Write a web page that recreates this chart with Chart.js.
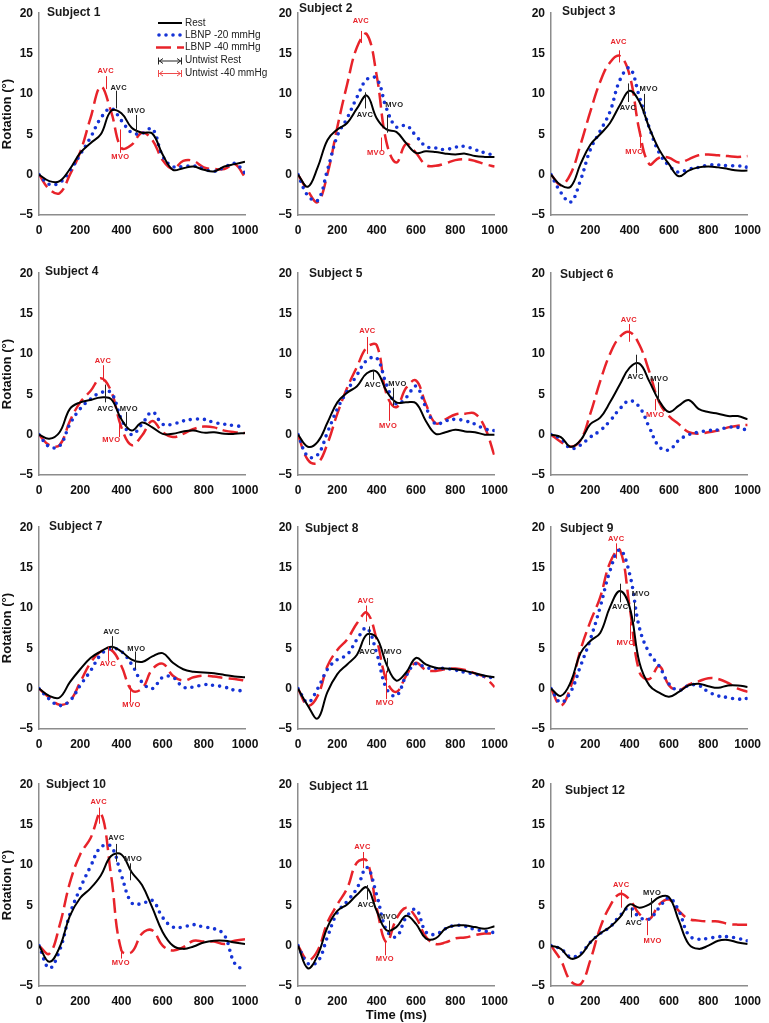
<!DOCTYPE html>
<html><head><meta charset="utf-8">
<script src="https://cdn.jsdelivr.net/npm/chart.js@4.4.1/dist/chart.umd.min.js"></script>
<style>
html,body{margin:0;padding:0;background:#fff;}
body{width:769px;height:1023px;position:relative;overflow:hidden;}
canvas{position:absolute;}
</style></head><body>
<script>
// ---------- DATA ----------
const times = [0,50,100,150,200,250,300,350,400,450,500,550,600,650,700,750,800,850,900,950,1000];
const subjectNames = ['Subject 1','Subject 2','Subject 3','Subject 4','Subject 5','Subject 6','Subject 7','Subject 8','Subject 9','Subject 10','Subject 11','Subject 12'];
const seriesNames = ['Rest','LBNP -20 mmHg','LBNP -40 mmHg'];
const untwistNames = ['Untwist Rest','Untwist -40 mmHg'];
const xTicks = [0,200,400,600,800,1000];
const yTicks = [-5,0,5,10,15,20];

const rest1 = [0,-0.8,-0.8,0.7,2.7,3.9,5.0,7.9,7.6,5.8,5.2,5.1,2.5,0.6,0.8,1.0,0.6,0.4,1.0,1.3,1.6];
const lbnp20_1 = [0,-1.2,-1.0,0.5,2.5,4.6,7.0,8.2,6.7,5.2,5.1,5.7,2.3,1.0,1.0,1.1,0.7,0.4,0.9,1.4,0.2];
const lbnp40_1 = [0,-1.8,-2.3,0.0,2.8,7.0,10.9,7.8,3.3,3.7,5.2,4.3,1.8,0.7,1.7,1.7,0.9,0.7,0.7,1.3,-0.3];

const rest2 = [0,-1.5,0.9,4.3,5.6,6.4,8.2,9.8,7.0,5.6,5.3,3.9,2.7,2.9,2.8,2.6,2.5,2.6,2.3,2.2,2.2];
const lbnp20_2 = [0,-2.6,-3.2,0.6,4.8,7.0,9.6,11.8,11.9,8.2,5.9,6.1,4.8,3.5,3.3,3.1,3.4,3.5,3.1,2.7,2.4];
const lbnp40_2 = [0,-2.0,-3.4,0.1,5.9,11.2,15.8,17.4,12.3,4.0,1.5,3.8,2.7,1.2,1.1,1.4,1.8,1.9,1.7,1.3,1.0];

const rest3 = [0,-1.3,-1.5,1.3,3.7,5.0,6.4,8.6,10.4,9.0,5.8,3.1,1.3,-0.2,0.5,0.9,1.0,0.9,0.7,0.5,0.5];
const lbnp20_3 = [0,-2.2,-3.4,-0.7,3.1,5.4,7.8,11.7,13.2,9.6,5.8,2.7,1.1,0.3,0.7,0.9,1.2,1.2,1.1,1.1,0.9];
const lbnp40_3 = [0,-1.3,0.1,3.7,7.8,11.5,13.9,14.7,12.3,5.4,1.3,2.1,2.1,1.5,1.9,2.4,2.5,2.4,2.3,2.2,2.3];

const rest4 = [0,-0.5,0.3,3.2,4.0,4.3,4.6,4.4,1.9,0.5,1.5,0.9,0.1,0.1,0.4,0.5,0.25,0.3,0.1,0.1,0.2];
const lbnp20_4 = [0,-1.5,-1.4,1.3,3.2,4.4,5.2,5.2,1.9,0.0,1.3,2.8,1.3,1.3,1.7,1.9,1.9,1.5,1.3,1.1,1.0];
const lbnp40_4 = [0,-1.3,-1.3,1.7,4.0,5.4,7.0,5.4,0.9,-1.3,-0.1,1.7,0.3,-0.3,0.1,0.7,1.0,0.9,0.5,0.3,0.2];

const rest5 = [0,-1.5,-0.9,1.5,4.0,5.2,6.0,7.6,7.8,5.4,4.0,4.0,3.9,1.7,0.1,0.3,0.6,0.4,0.3,0.0,0.0];
const lbnp20_5 = [0,-2.7,-2.5,0.3,3.2,5.4,7.4,9.2,9.5,6.2,3.8,4.6,6.0,3.4,1.3,1.7,1.9,1.7,1.3,0.7,0.5];
const lbnp40_5 = [0,-3.1,-3.5,-1.1,2.6,5.8,8.4,10.8,11.1,5.0,3.4,5.8,6.7,3.8,1.4,1.9,2.5,2.6,2.6,0.9,-2.7];

const rest6 = [0,-0.3,-1.5,-0.7,1.3,2.1,4.0,6.2,8.3,8.8,6.6,4.2,2.8,3.6,4.3,3.2,2.8,2.6,2.3,2.3,1.9];
const lbnp20_6 = [0,-0.5,-1.7,-1.3,-0.3,0.5,1.7,3.2,4.2,3.4,0.9,-1.5,-1.9,-0.7,0.0,0.3,0.5,0.6,0.9,0.9,0.5];
const lbnp40_6 = [0,-0.9,-1.5,-0.7,2.6,6.6,10.0,12.1,12.7,11.1,7.8,4.0,2.3,1.3,0.3,0.1,0.3,0.5,0.9,1.1,1.2];

const rest7 = [0,-0.9,-1.1,0.8,2.4,3.8,4.6,5.2,4.6,3.6,3.3,4.0,4.4,3.2,2.4,2.1,2.0,1.9,1.7,1.5,1.4];
const lbnp20_7 = [0,-1.3,-2.1,-1.5,0.4,2.2,4.2,5.0,4.6,3.0,0.8,0.0,1.4,1.4,0.2,0.2,0.5,0.4,0.2,-0.2,-0.25];
const lbnp40_7 = [0,-1.1,-2.0,-1.5,0.8,3.2,4.6,4.8,2.8,-0.2,0.0,2.4,3.1,1.6,1.0,1.4,1.6,1.5,1.3,1.2,1.0];

const rest8 = [0,-2.1,-3.7,-0.4,1.8,3.0,4.2,6.7,6.3,3.0,1.0,2.0,3.8,3.0,2.6,2.5,2.4,2.2,1.9,1.6,1.4];
const lbnp20_8 = [0,-1.7,0.0,2.4,3.6,4.2,6.1,7.5,4.4,0.0,-0.9,1.6,3.1,2.6,2.5,2.5,2.3,2.0,1.8,1.5,1.3];
const lbnp40_8 = [0,-2.1,-0.9,2.8,4.8,6.1,8.1,9.4,6.1,1.0,-0.4,1.6,3.2,2.3,2.2,2.4,2.5,2.3,1.9,1.4,0.2];

const rest9 = [0,-0.9,0.8,4.4,5.9,6.9,10.1,12.1,10.1,3.2,0.4,-0.5,-1.0,-0.4,0.4,0.6,0.3,0.1,0.4,0.4,0.2];
const lbnp20_9 = [0,-1.7,-0.4,2.8,6.1,10.1,14.6,17.2,14.2,7.5,4.4,2.8,0.6,-0.2,0.4,0.4,-0.4,-0.9,-1.1,-1.3,-1.2];
const lbnp40_9 = [0,-2.1,0.2,4.8,8.3,11.3,15.6,17.2,10.1,2.0,1.2,2.8,0.4,-0.2,0.5,0.9,1.3,1.2,0.7,0.0,-0.4];

const rest10 = [0,-2.0,-0.2,3.7,5.9,7.1,8.7,11.1,11.3,9.1,7.5,4.7,1.7,0.0,-0.4,-0.1,0.4,0.6,0.6,0.4,0.2];
const lbnp20_10 = [0,-2.8,-0.6,3.9,7.1,9.8,12.2,12.3,8.7,5.3,5.2,5.6,3.5,2.3,2.3,2.6,2.3,2.1,1.3,-2.2,-3.1];
const lbnp40_10 = [0,-1.0,2.5,7.8,11.3,13.3,16.4,8.7,-0.6,-0.8,1.5,1.9,0.0,-0.6,-0.2,0.6,0.5,0.5,0.2,0.6,0.8];

const rest11 = [0,-2.8,-1.2,2.3,4.3,5.1,6.3,7.2,4.3,1.9,2.3,3.7,2.7,0.9,0.9,2.1,2.5,2.5,2.3,2.1,2.4];
const lbnp20_11 = [0,-2.2,-2.0,1.1,4.1,5.5,7.1,9.7,6.3,1.9,1.1,3.5,4.5,1.7,1.4,2.1,2.5,2.4,2.0,1.8,1.6];
const lbnp40_11 = [0,-1.8,-0.6,2.9,5.1,7.1,10.3,10.5,4.7,0.4,3.3,4.7,3.5,1.1,0.2,0.4,0.9,1.0,1.3,1.5,1.5];

const rest12 = [0,-0.4,-1.6,-1.2,0.4,1.5,2.3,3.5,5.1,4.7,5.1,6.0,6.0,3.1,0.2,-0.4,0.0,0.6,0.7,0.4,0.2];
const lbnp20_12 = [0,-0.4,-1.4,-1.0,0.4,1.5,2.3,3.7,4.7,3.5,3.3,4.7,5.9,4.3,1.3,0.8,0.9,1.1,1.1,0.9,0.6];
const lbnp40_12 = [0,-1.8,-4.4,-4.8,-1.8,2.2,4.9,6.4,5.7,3.9,3.3,5.1,5.7,4.3,3.3,3.1,3.0,3.0,2.7,2.6,2.6];

const restSeries = [rest1,rest2,rest3,rest4,rest5,rest6,rest7,rest8,rest9,rest10,rest11,rest12];
const lbnp20Series = [lbnp20_1,lbnp20_2,lbnp20_3,lbnp20_4,lbnp20_5,lbnp20_6,lbnp20_7,lbnp20_8,lbnp20_9,lbnp20_10,lbnp20_11,lbnp20_12];
const lbnp40Series = [lbnp40_1,lbnp40_2,lbnp40_3,lbnp40_4,lbnp40_5,lbnp40_6,lbnp40_7,lbnp40_8,lbnp40_9,lbnp40_10,lbnp40_11,lbnp40_12];

// event markers: [time ms, line top °, line bottom °, label °, label shift ms, text, condition]
const events1 = [[376,10.4,8.2,10.8,11,'AVC','rest'],[473,7.4,5.2,7.9,0,'MVO','rest'],[324,12.2,10.6,12.9,0,'AVC','l40'],[395,5.6,2.7,2.2,0,'MVO','l40']];
const events2 = [[341,10.2,8.2,7.4,0,'AVC','rest'],[453,7.4,5.2,8.6,37,'MVO','rest'],[320,17.8,16.3,19.0,0,'AVC','l40'],[421,4.6,2.9,2.7,-24,'MVO','l40']];
const events3 = [[392,11.3,9.0,8.3,0,'AVC','rest'],[473,10.0,7.4,10.6,24,'MVO','rest'],[344,15.4,13.9,16.5,0,'AVC','l40'],[452,5.4,3.3,2.8,-28,'MVO','l40']];
const events4 = [[322,6.2,4.0,3.2,0,'AVC','rest'],[420,2.8,0.9,3.2,16,'MVO','rest'],[311,8.6,6.6,9.1,0,'AVC','l40'],[387,1.7,-0.3,-0.7,-36,'MVO','l40']];
const events5 = [[380,8.0,6.8,6.2,0,'AVC','rest'],[482,5.8,3.6,6.3,24,'MVO','rest'],[353,12.1,10.0,12.8,0,'AVC','l40'],[461,4.2,1.7,1.1,-3,'MVO','l40']];
const events6 = [[430,9.9,7.6,7.2,0,'AVC','rest'],[543,6.5,4.0,6.9,8,'MVO','rest'],[396,13.7,11.5,14.2,0,'AVC','l40'],[527,4.4,3.0,2.5,3,'MVO','l40']];
const events7 = [[352,6.5,4.8,7.0,0,'AVC','rest'],[467,4.6,2.4,4.9,6,'MVO','rest'],[335,5.2,3.4,3.0,0,'AVC','l40'],[441,0.4,-1.7,-2.0,8,'MVO','l40']];
const events8 = [[361,7.7,5.4,4.5,-8,'AVC','rest'],[455,3.8,2.0,4.6,27,'MVO','rest'],[345,10.3,8.3,10.9,0,'AVC','l40'],[445,2.2,-1.3,-1.8,-3,'MVO','l40']];
const events9 = [[352,13.0,10.7,10.1,0,'AVC','rest'],[420,10.7,8.3,11.7,37,'MVO','rest'],[332,18.0,16.1,18.6,0,'AVC','l40'],[402,8.3,6.1,5.7,-23,'MVO','l40']];
const events10 = [[376,12.6,10.4,13.3,0,'AVC','rest'],[444,10.2,8.1,10.8,13,'MVO','rest'],[290,17.1,15.1,17.8,0,'AVC','l40'],[397,-0.2,-1.6,-2.1,0,'MVO','l40']];
const events11 = [[353,7.5,5.7,5.1,-8,'AVC','rest'],[463,3.1,1.3,3.6,-5,'MVO','rest'],[328,11.6,9.6,12.2,0,'AVC','l40'],[442,0.6,-1.2,-1.7,0,'MVO','l40']];
const events12 = [[405,4.7,3.5,2.8,16,'AVC','rest'],[509,5.9,3.7,6.5,5,'MVO','rest'],[357,6.9,4.7,7.5,0,'AVC','l40'],[486,3.1,1.3,0.6,31,'MVO','l40']];
const eventSets = [events1,events2,events3,events4,events5,events6,events7,events8,events9,events10,events11,events12];

// ---------- LAYOUT / STYLE ----------
const FONT = '"Liberation Sans", Arial, Helvetica, sans-serif';
const colLeft = [39, 298, 551];
const rowTop = [10, 270, 524, 781];
const AREA_W = 206, AREA_H = 205, Y_W = 39, PAD_T = 10;
const padRight = [24, 12, 12];
const titleOffsets = [[8,-1],[1,-5],[11,-2],[6,-2],[11,0],[9,1],[10,-1],[7,1],[9,1],[7,0],[11,2],[14,6]];
const COL_REST = '#000000', COL_20 = '#1533d6', COL_40 = '#e8232a';

function fmtTick(v){ return v < 0 ? '\u2212' + Math.abs(v) : String(v); }

const decoPlugin = {
  id: 'deco',
  afterDatasetsDraw(chart, args, opts) {
    const ctx = chart.ctx, xs = chart.scales.x, ys = chart.scales.y, a = chart.chartArea;
    ctx.save();
    ctx.font = 'bold 12px ' + FONT;
    ctx.fillStyle = '#1a1a1a';
    ctx.textAlign = 'left'; ctx.textBaseline = 'middle';
    ctx.fillText(opts.title, a.left + opts.tdx, a.top + opts.tdy);
    ctx.font = 'bold 7.5px ' + FONT;
    try { ctx.letterSpacing = '0.4px'; } catch(e) {}
    ctx.textAlign = 'center';
    opts.events.forEach(ev => {
      const col = ev[6] === 'rest' ? '#222' : COL_40;
      const x = Math.round(xs.getPixelForValue(ev[0])) + 0.5;
      ctx.strokeStyle = col; ctx.lineWidth = 1;
      ctx.beginPath();
      ctx.moveTo(x, ys.getPixelForValue(ev[1]));
      ctx.lineTo(x, ys.getPixelForValue(ev[2]));
      ctx.stroke();
      ctx.fillStyle = col;
      ctx.fillText(ev[5], xs.getPixelForValue(ev[0] + ev[4]), ys.getPixelForValue(ev[3]));
    });
    try { ctx.letterSpacing = '0px'; } catch(e) {}
    if (opts.legend) {
      const lx0 = 158, lx1 = 182, tx = 185, rows = [23, 35, 47.5, 60.5, 73];
      ctx.font = '10px ' + FONT;
      ctx.textAlign = 'left'; ctx.textBaseline = 'middle';
      chart.data.datasets.forEach((ds, i) => {
        ctx.save();
        ctx.strokeStyle = ds.borderColor; ctx.lineWidth = ds.borderWidth;
        ctx.setLineDash(ds.borderDash || []);
        ctx.lineCap = ds.borderCapStyle || 'butt';
        ctx.beginPath();
        if (i === 1) { ctx.moveTo(lx0 + 1, rows[i]); ctx.lineTo(lx1, rows[i]); }
        else if (i === 2) { ctx.moveTo(lx0 - 2, rows[i]); ctx.lineTo(lx1 + 2, rows[i]); }
        else { ctx.moveTo(lx0, rows[i]); ctx.lineTo(lx1, rows[i]); }
        ctx.stroke();
        ctx.restore();
        ctx.fillStyle = '#222';
        ctx.fillText(ds.label, tx, rows[i]);
      });
      const ucol = ['#222', '#ee4b4b'];
      untwistNames.forEach((nm, j) => {
        const y = rows[3 + j] + 0.5, c = ucol[j];
        ctx.strokeStyle = c; ctx.lineWidth = 1;
        ctx.beginPath();
        ctx.moveTo(lx0 + 0.5, y - 3.5); ctx.lineTo(lx0 + 0.5, y + 3.5);
        ctx.moveTo(lx1 - 0.5, y - 3.5); ctx.lineTo(lx1 - 0.5, y + 3.5);
        ctx.moveTo(lx0 + 1, y); ctx.lineTo(lx1 - 1, y);
        ctx.moveTo(lx0 + 5, y - 2.5); ctx.lineTo(lx0 + 1.5, y); ctx.lineTo(lx0 + 5, y + 2.5);
        ctx.moveTo(lx1 - 5, y - 2.5); ctx.lineTo(lx1 - 1.5, y); ctx.lineTo(lx1 - 5, y + 2.5);
        ctx.stroke();
        ctx.fillStyle = '#222';
        ctx.fillText(nm, tx, rows[3 + j]);
      });
    }
    ctx.restore();
  }
};

for (let i = 0; i < 12; i++) {
  const r = Math.floor(i / 3), c = i % 3;
  const cv = document.createElement('canvas');
  const W = Y_W + AREA_W + padRight[c];
  const H = (r === 3) ? 1023 - (rowTop[r] - PAD_T) : 245;
  cv.width = W; cv.height = H;
  cv.style.left = (colLeft[c] - Y_W) + 'px';
  cv.style.top = (rowTop[r] - PAD_T) + 'px';
  cv.style.width = W + 'px'; cv.style.height = H + 'px';
  document.body.appendChild(cv);
  const xH = H - PAD_T - AREA_H;
  const mk = arr => times.map((t, k) => ({x: t, y: arr[k]}));
  new Chart(cv, {
    type: 'line',
    data: {
      datasets: [
        {label: seriesNames[0], data: mk(restSeries[i]), borderColor: COL_REST, borderWidth: 2, tension: 0.4, pointRadius: 0, fill: false},
        {label: seriesNames[1], data: mk(lbnp20Series[i]), borderColor: COL_20, borderWidth: 3.6, borderDash: [0, 7], borderCapStyle: 'round', tension: 0.4, pointRadius: 0, fill: false},
        {label: seriesNames[2], data: mk(lbnp40Series[i]), borderColor: COL_40, borderWidth: 2.5, borderDash: [15, 6], tension: 0.4, pointRadius: 0, fill: false}
      ]
    },
    options: {
      responsive: false, animation: false, devicePixelRatio: 1,
      layout: {padding: {top: PAD_T, right: padRight[c], left: 0, bottom: 0}},
      plugins: {
        legend: {display: false}, tooltip: {enabled: false},
        deco: {title: subjectNames[i], tdx: titleOffsets[i][0], tdy: titleOffsets[i][1], events: eventSets[i], legend: i === 0}
      },
      scales: {
        x: {
          type: 'linear', min: 0, max: 1000,
          afterBuildTicks: s => { s.ticks = xTicks.map(v => ({value: v})); },
          afterFit: s => { s.height = xH; },
          ticks: {font: {family: FONT, size: 12, weight: 'bold'}, color: '#111', padding: 8, maxRotation: 0, autoSkip: false, callback: v => fmtTick(v)},
          grid: {display: false, drawTicks: false},
          border: {display: true, color: '#8c8c8c', width: 1.5},
          title: {display: i === 10, text: 'Time (ms)', font: {family: FONT, size: 13, weight: 'bold'}, color: '#111', padding: {top: 0, bottom: 0}}
        },
        y: {
          type: 'linear', min: -5, max: 20,
          afterBuildTicks: s => { s.ticks = yTicks.map(v => ({value: v})); },
          afterFit: s => { s.width = Y_W; },
          ticks: {font: {family: FONT, size: 12, weight: 'bold'}, color: '#111', padding: 6, callback: v => fmtTick(v)},
          grid: {display: false, drawTicks: false},
          border: {display: true, color: '#8c8c8c', width: 1.5},
          title: {display: c === 0, text: 'Rotation (\u00b0)', font: {family: FONT, size: 13, weight: 'bold'}, color: '#111', padding: {top: 0, bottom: 0}}
        }
      }
    },
    plugins: [decoPlugin]
  });
}
</script>
</body></html>
